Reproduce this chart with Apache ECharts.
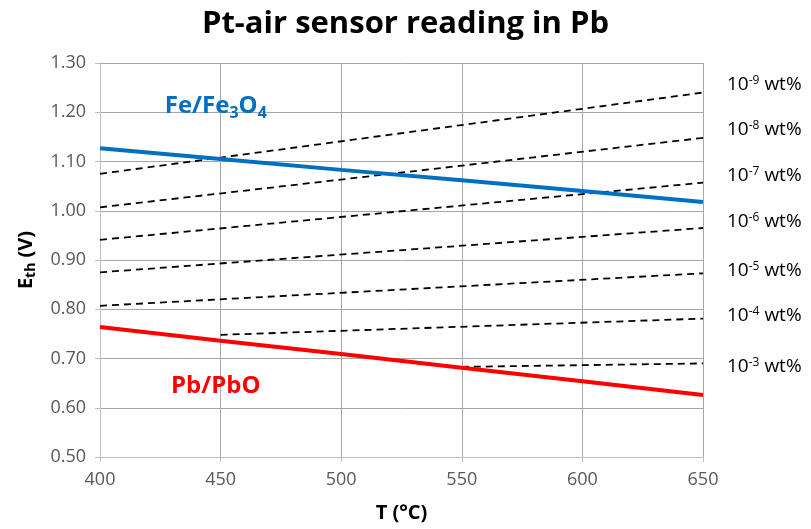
<!DOCTYPE html>
<html>
<head>
<meta charset="utf-8">
<script src="https://cdn.jsdelivr.net/npm/echarts@6/dist/echarts.min.js"></script>
<style>
  html, body { margin: 0; padding: 0; background: #fff; }
  #chart-container { width: 811px; height: 529px; }
</style>
</head>
<body>
<div id="chart-container"></div>
<script>
var xTicks = [400, 450, 500, 550, 600, 650];
var feFe3O4 = [1.127, 1.105, 1.083, 1.062, 1.040, 1.018];
var pbPbO = [0.764, 0.736, 0.709, 0.681, 0.654, 0.626];

// iso-concentration lines [T, E]
var isoNames = ["-9", "-8", "-7", "-6", "-5", "-4", "-3"];
var isoLines = [
  [[400, 1.075], [650, 1.240]],
  [[400, 1.007], [650, 1.148]],
  [[400, 0.941], [650, 1.057]],
  [[400, 0.875], [650, 0.965]],
  [[400, 0.807], [650, 0.873]],
  [[450, 0.748], [650, 0.781]],
  [[550, 0.683], [650, 0.690]]
];
var labelShift = [-8, -8, -7, -6, -3, -3, 3];

var font = "Open Sans";

var dom = document.getElementById("chart-container");
var myChart = echarts.init(dom, null, { renderer: "canvas" });

function textMark(coord, text, color, rich) {
  return {
    symbol: "rect",
    symbolSize: 1,
    itemStyle: { color: "rgba(0,0,0,0)" },
    silent: true,
    data: [{ coord: coord }],
    label: {
      show: true,
      position: "inside",
      formatter: text,
      color: color,
      fontFamily: font,
      fontWeight: "bold",
      fontSize: 24,
      rich: rich
    }
  };
}

var seriesData = [];
isoLines.forEach(function (line, i) {
  seriesData.push({
    type: "line",
    data: line,
    symbol: "none",
    silent: true,
    lineStyle: { color: "#000", width: 1.8, type: [7, 5] },
    endLabel: {
      show: true,
      distance: 24,
      offset: [0, labelShift[i]],
      formatter: "10{sup|" + isoNames[i] + "} wt%",
      color: "#000",
      fontFamily: font,
      fontSize: 19,
      rich: {
        sup: { fontSize: 12, fontFamily: font, color: "#000", verticalAlign: "top", padding: [0, 0, 8, 0] }
      }
    },
    z: 2
  });
});

seriesData.push({
  type: "line",
  data: xTicks.map(function (t, i) { return [t, feFe3O4[i]]; }),
  symbol: "none",
  lineStyle: { color: "#0070C0", width: 4 },
  z: 3,
  markPoint: textMark([448, 1.212], "Fe/Fe{sub|3}O{sub|4}", "#0070C0", {
    sub: { fontSize: 16, fontWeight: "bold", fontFamily: font, color: "#0070C0", verticalAlign: "bottom", padding: [14, 0, 0, 0] }
  })
});

seriesData.push({
  type: "line",
  data: xTicks.map(function (t, i) { return [t, pbPbO[i]]; }),
  symbol: "none",
  lineStyle: { color: "#FF0000", width: 4 },
  z: 3,
  markPoint: textMark([448, 0.644], "Pb/PbO", "#FF0000", {})
});

var option = {
  animation: false,
  title: {
    text: "Pt-air sensor reading in Pb",
    left: "center",
    top: 4,
    textStyle: { fontFamily: font, fontWeight: "bold", fontSize: 31, color: "#000" }
  },
  grid: { left: 100, right: 108, top: 63, bottom: 72 },
  xAxis: {
    type: "value",
    min: 400,
    max: 650,
    interval: 50,
    name: "T (°C)",
    nameLocation: "middle",
    nameGap: 46,
    nameTextStyle: { fontFamily: font, fontWeight: "bold", fontSize: 20, color: "#000" },
    axisLine: { lineStyle: { color: "#bfbfbf" } },
    axisTick: { show: true, length: 5, lineStyle: { color: "#bfbfbf" } },
    axisLabel: { fontFamily: font, fontSize: 18, color: "#595959", margin: 14 },
    splitLine: { lineStyle: { color: "#a6a6a6" } }
  },
  yAxis: {
    type: "value",
    min: 0.5,
    max: 1.3,
    interval: 0.1,
    name: "E{sub|th} (V)",
    nameLocation: "middle",
    nameGap: 62,
    nameRotate: 90,
    nameTextStyle: {
      fontFamily: font, fontWeight: "bold", fontSize: 20, color: "#000",
      rich: { sub: { fontFamily: font, fontWeight: "bold", fontSize: 14, color: "#000", verticalAlign: "bottom", padding: [9, 0, 0, 0] } }
    },
    axisLine: { show: true, lineStyle: { color: "#bfbfbf" } },
    axisTick: { show: true, length: 5, lineStyle: { color: "#bfbfbf" } },
    axisLabel: {
      fontFamily: font, fontSize: 18, color: "#595959", margin: 14,
      formatter: function (v) { return v.toFixed(2); }
    },
    splitLine: { lineStyle: { color: "#a6a6a6" } }
  },
  series: seriesData
};

myChart.setOption(option);
</script>
</body>
</html>
